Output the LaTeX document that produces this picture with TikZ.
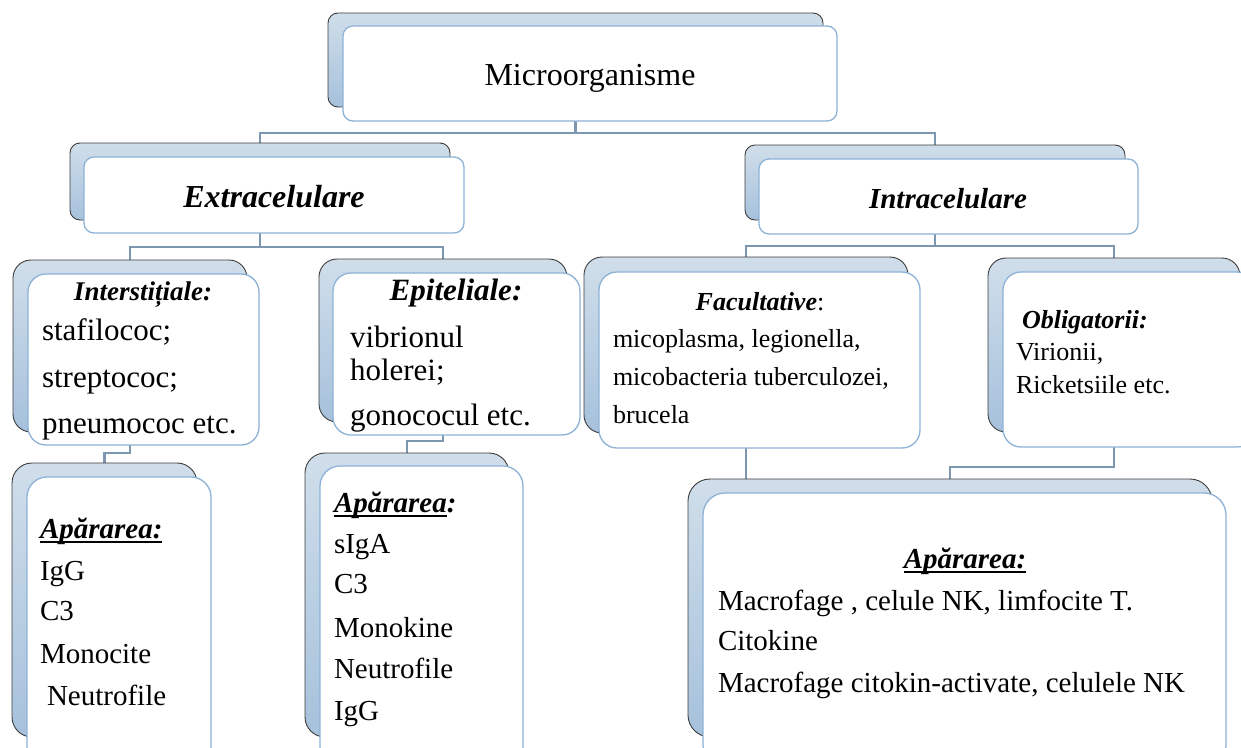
\documentclass[tikz,border=0pt]{standalone}
\usepackage{fontspec}
\setmainfont{Liberation Serif}
\usetikzlibrary{backgrounds}
\definecolor{connc}{HTML}{7D97B1}
\definecolor{frontline}{HTML}{8DB2D6}
\definecolor{backtop}{HTML}{D0DEEA}
\definecolor{backbot}{HTML}{A6C1DC}
\definecolor{backline}{HTML}{3C3C3C}
\newcommand\fs[1]{\fontsize{#1}{#1}\selectfont}
% underline drawn as a rule just below the baseline
\newcommand\ulbox[1]{\setbox0\hbox{#1}\rlap{\rule[-0.17em]{\wd0}{0.08em}}\box0}
\tikzset{
  backbox/.style={draw=backline, line width=0.9pt, top color=backtop, bottom color=backbot,
    inner sep=0, outer sep=0, anchor=north west},
  frontbox/.style={draw=frontline, line width=1.3pt, fill=white,
    inner sep=0, outer sep=0, anchor=north west},
  conn/.style={draw=connc, line width=2.6pt},
  lbl/.style={inner sep=0, outer sep=0, anchor=base west},
  ttl/.style={inner sep=0, outer sep=0, anchor=base},
}
\begin{document}
\begin{tikzpicture}[x=1pt, y=-1pt]
\useasboundingbox (0,0) rectangle (1241,747);
\clip (0,0) rectangle (1241,747);

% ---------- level 0
\node[backbox, rounded corners=10pt, minimum width=495pt, minimum height=94pt] (micro-b) at (328,13) {};
\node[frontbox, rounded corners=10pt, minimum width=494pt, minimum height=95pt] (micro) at (343,26) {};
\node[ttl, font=\fs{32}] (t-micro) at (590,85) {Microorganisme};

% ---------- level 1
\node[backbox, rounded corners=10pt, minimum width=380pt, minimum height=77pt] (extra-b) at (70,143) {};
\node[frontbox, rounded corners=10pt, minimum width=380pt, minimum height=76pt] (extra) at (84,157) {};
\node[ttl, font=\fs{32}\bfseries\itshape] (t-extra) at (274,207) {Extracelulare};

\node[backbox, rounded corners=10pt, minimum width=380pt, minimum height=75pt] (intra-b) at (745,145) {};
\node[frontbox, rounded corners=10pt, minimum width=379pt, minimum height=75pt] (intra) at (759,159) {};
\node[ttl, font=\fs{29}\bfseries\itshape] (t-intra) at (948,208) {Intracelulare};

% ---------- level 2
\node[backbox, rounded corners=18pt, minimum width=234pt, minimum height=172pt] (inter-b) at (13,260) {};
\node[frontbox, rounded corners=18pt, minimum width=231pt, minimum height=171pt] (inter) at (28,274) {};
\node[ttl, font=\fs{27}\bfseries\itshape] (t-inter) at (143,300) {Interstițiale:};
\node[lbl, font=\fs{31}] (inter-1) at (42,340) {stafilococ;};
\node[lbl, font=\fs{31}] (inter-2) at (42,387) {streptococ;};
\node[lbl, font=\fs{31}] (inter-3) at (42,433) {pneumococ etc.};

\node[backbox, rounded corners=18pt, minimum width=248pt, minimum height=163pt] (epi-b) at (319,259) {};
\node[frontbox, rounded corners=18pt, minimum width=247pt, minimum height=162pt] (epi) at (333,273) {};
\node[ttl, font=\fs{31}\bfseries\itshape] (t-epi) at (456,300) {Epiteliale:};
\node[lbl, font=\fs{31}] (epi-1) at (350,347) {vibrionul};
\node[lbl, font=\fs{31}] (epi-2) at (350,380) {holerei;};
\node[lbl, font=\fs{31}] (epi-3) at (350,425) {gonococul etc.};

\node[backbox, rounded corners=18pt, minimum width=324pt, minimum height=176pt] (fac-b) at (584,257) {};
\node[frontbox, rounded corners=18pt, minimum width=321pt, minimum height=176pt] (fac) at (599,272) {};
\node[ttl, font=\fs{26}] (t-fac) at (760,310) {\textbf{\textit{Facultative}}:};
\node[lbl, font=\fs{26}] (fac-1) at (613,347) {micoplasma, legionella,};
\node[lbl, font=\fs{26}] (fac-2) at (613,385) {micobacteria tuberculozei,};
\node[lbl, font=\fs{26}] (fac-3) at (613,423) {brucela};

\node[backbox, rounded corners=18pt, minimum width=252pt, minimum height=174pt] (obl-b) at (988,258) {};
\node[frontbox, rounded corners=18pt, minimum width=252pt, minimum height=175pt] (obl) at (1003,272) {};
\node[lbl, font=\fs{26}\bfseries\itshape] (t-obl) at (1022,328) {Obligatorii:};
\node[lbl, font=\fs{26}] (obl-1) at (1016,360) {Virionii,};
\node[lbl, font=\fs{26}] (obl-2) at (1016,393) {Ricketsiile etc.};

% ---------- level 3
\node[backbox, rounded corners=20pt, minimum width=185pt, minimum height=274pt] (ap1-b) at (12,463) {};
\node[frontbox, rounded corners=20pt, minimum width=184pt, minimum height=290pt] (ap1) at (27,477) {};
\node[lbl, font=\fs{29}\bfseries\itshape] (t-ap1) at (40,538) {\ulbox{Apărarea:}};
\node[lbl, font=\fs{29}] (ap1-1) at (40,580) {IgG};
\node[lbl, font=\fs{29}] (ap1-2) at (40,620) {C3};
\node[lbl, font=\fs{29}] (ap1-3) at (40,663) {Monocite};
\node[lbl, font=\fs{29}] (ap1-4) at (47,705) {Neutrofile};

\node[backbox, rounded corners=20pt, minimum width=204pt, minimum height=284pt] (ap2-b) at (305,453) {};
\node[frontbox, rounded corners=20pt, minimum width=203pt, minimum height=301pt] (ap2) at (320,466) {};
\node[lbl, font=\fs{29}\bfseries\itshape] (t-ap2) at (334,512) {\ulbox{Apărarea}:};
\node[lbl, font=\fs{29}] (ap2-1) at (334,553) {sIgA};
\node[lbl, font=\fs{29}] (ap2-2) at (334,593) {C3};
\node[lbl, font=\fs{29}] (ap2-3) at (334,637) {Monokine};
\node[lbl, font=\fs{29}] (ap2-4) at (334,678) {Neutrofile};
\node[lbl, font=\fs{29}] (ap2-5) at (334,720) {IgG};

\node[backbox, rounded corners=22pt, minimum width=524pt, minimum height=258pt] (ap3-b) at (688,479) {};
\node[frontbox, rounded corners=22pt, minimum width=523pt, minimum height=274pt] (ap3) at (703,493) {};
\node[ttl, font=\fs{29}\bfseries\itshape] (t-ap3) at (965,568) {\ulbox{Apărarea:}};
\node[lbl, font=\fs{29}] (ap3-1) at (718,610) {Macrofage , celule NK, limfocite T.};
\node[lbl, font=\fs{29}] (ap3-2) at (718,650) {Citokine};
\node[lbl, font=\fs{29}] (ap3-3) at (718,692) {Macrofage citokin-activate, celulele NK};

% ---------- white page and connectors, behind the boxes
\begin{pgfonlayer}{background}
\fill[white] (0,0) rectangle (1241,747);
\draw[conn] (micro-b.center) -- (micro-b.center |- 0,133) -| (extra-b.north);
\draw[conn] (micro-b.center |- 0,133) -| (intra-b.north);
\draw[conn] (extra-b.center) -- (extra-b.center |- 0,247) -| (inter-b.north);
\draw[conn] (extra-b.center |- 0,247) -| (epi-b.north);
\draw[conn] (intra-b.center) -- (intra-b.center |- 0,246) -| (fac-b.north);
\draw[conn] (intra-b.center |- 0,246) -| (obl-b.north);
\draw[conn] (inter-b.center) -- (inter-b.center |- 0,453) -| (ap1-b.north);
\draw[conn] (epi-b.center) -- (epi-b.center |- 0,441) -| (ap2-b.north);
\draw[conn] (fac-b.center) -- (fac-b.center |- ap3-b.north);
\draw[conn] (obl-b.center) -- (obl-b.center |- 0,467) -| (ap3-b.north);
\end{pgfonlayer}
\end{tikzpicture}
\end{document}
